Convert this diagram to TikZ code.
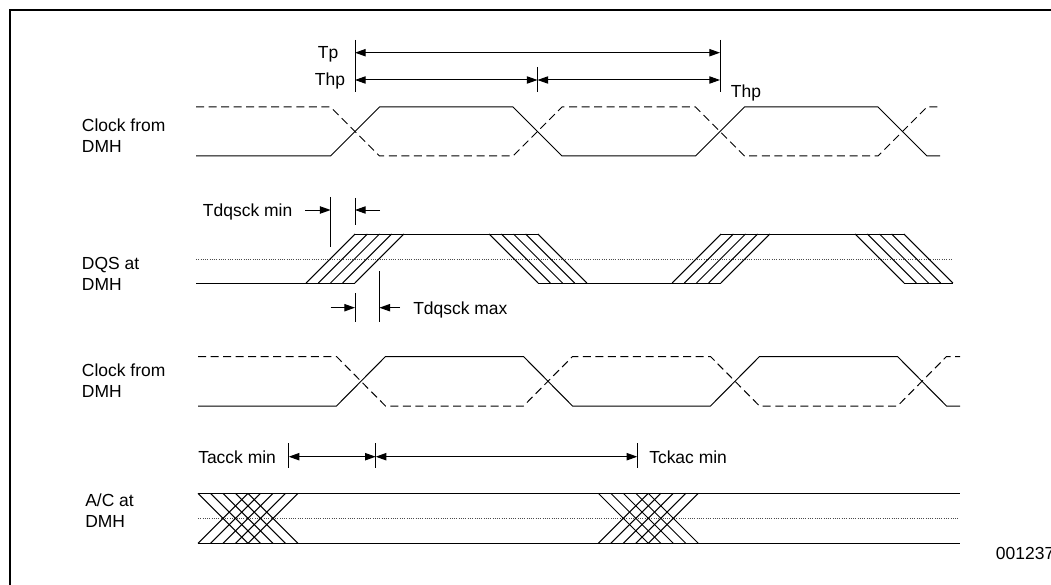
\documentclass[tikz,border=0pt]{standalone}
\usepackage{fontspec}
\setmainfont{Liberation Sans}
\usetikzlibrary{arrows.meta}
\begin{document}
\begin{tikzpicture}[x=0.75pt,y=-0.75pt,
  sig/.style={line width=0.75pt, line join=miter},
  dsig/.style={sig, dash pattern=on 6pt off 3.4pt},
  dotln/.style={line width=0.6pt, black!70, dash pattern=on 0.6pt off 1.1pt},
  tri/.tip={Triangle[length=8pt,width=5.5pt]},
  dimln/.style={line width=0.75pt, tri-tri},
  onearrow/.style={line width=0.75pt, -tri},
  tickln/.style={line width=0.75pt},
  lbl/.style={font=\fontsize{13.1}{15.7}\selectfont, inner sep=0pt, anchor=base west}]
\useasboundingbox (0,0) rectangle (1051,585);
\draw[line width=1.5pt] (1070,10.5) -- (10,10.5) -- (10,600);

% ---- labels on the left
\node[lbl] (c1a) at (81.7,131.7) {Clock from};
\node[lbl] (c1b) at (81.7,152.7) {DMH};
\node[lbl] (dqa) at (81.7,269) {DQS at};
\node[lbl] (dqb) at (81.7,290) {DMH};
\node[lbl] (c2a) at (81.7,376) {Clock from};
\node[lbl] (c2b) at (81.7,397) {DMH};
\node[lbl] (aca) at (85,506) {A/C at};
\node[lbl] (acb) at (85,527) {DMH};
\node[lbl] (fig) at (995.7,559) {001237};

% ---- Tp / Thp
\coordinate (t1) at (355,40);  \coordinate (t1b) at (355,92);
\coordinate (t2) at (537.5,67); \coordinate (t2b) at (537.5,92);
\coordinate (t3) at (720,40);  \coordinate (t3b) at (720,92);
\draw[tickln] (t1) -- (t1b);
\draw[tickln] (t2) -- (t2b);
\draw[tickln] (t3) -- (t3b);
\draw[dimln] (355,52.7) -- (720,52.7);
\draw[dimln] (355,80) -- (537.5,80);
\draw[dimln] (537.5,80) -- (720,80);
\node[lbl] (tp) at (317.7,58.7) {Tp};
\node[lbl] (thp1) at (314.6,86) {Thp};
\node[lbl] (thp2) at (730.7,97.7) {Thp};

% ---- Clock 1
\draw[sig] (196,156) -- (330.5,156) -- (379.5,107) -- (513,107) -- (562,156) -- (695.5,156) -- (744.5,107) -- (878,107) -- (927,156) -- (940,156);
\draw[dsig] (196,107) -- (330.5,107) -- (379.5,156) -- (513,156) -- (562,107) -- (695.5,107) -- (744.5,156) -- (878,156) -- (927,107) -- (940,107);

% ---- DQS
\draw[dotln] (196,259) -- (951,259);
\draw[sig] (196,283) -- (355,283);
\draw[sig] (355,234) -- (538,234);
\draw[sig] (538,283) -- (721,283);
\draw[sig] (721,234) -- (904,234);
\draw[sig] (904,283) -- (953,283);
\foreach \k in {0,...,4} {
  \draw[sig] ({306.1+12.2*\k},283) -- ++(49,-49);
  \draw[sig] ({489.1+12.2*\k},234) -- ++(49,49);
  \draw[sig] ({672.1+12.2*\k},283) -- ++(49,-49);
  \draw[sig] ({855.1+12.2*\k},234) -- ++(49,49);
}
% Tdqsck min
\draw[tickln] (330.6,197) -- (330.6,247);
\draw[tickln] (355,198) -- (355,225);
\draw[onearrow] (305,210) -- (330.6,210);
\draw[onearrow] (380,210) -- (355,210);
\node[lbl] (tmin) at (202.7,216) {Tdqsck min};
% Tdqsck max
\draw[tickln] (355,293) -- (355,322);
\draw[tickln] (379.4,271) -- (379.4,322);
\draw[onearrow] (330.6,307.7) -- (355,307.7);
\draw[onearrow] (400,307.7) -- (379.4,307.7);
\node[lbl] (tmax) at (413,314) {Tdqsck max};

% ---- Clock 2
\draw[sig] (198,406) -- (336.5,406) -- (385.5,356.5) -- (523.5,356.5) -- (572.5,406) -- (710.5,406) -- (759.5,356.5) -- (897.5,356.5) -- (946.5,406) -- (960,406);
\draw[dsig] (198,356.5) -- (336.5,356.5) -- (385.5,406) -- (523.5,406) -- (572.5,356.5) -- (710.5,356.5) -- (759.5,406) -- (897.5,406) -- (946.5,356.5) -- (960,356.5);

% ---- Tacck / Tckac
\draw[tickln] (288.7,443) -- (288.7,468);
\draw[tickln] (375.7,443) -- (375.7,468);
\draw[tickln] (637.3,443) -- (637.3,468);
\draw[dimln] (288.7,456.7) -- (375.7,456.7);
\draw[dimln] (375.7,456.7) -- (637.3,456.7);
\node[lbl] (tacck) at (198,463) {Tacck min};
\node[lbl] (tckac) at (649,463) {Tckac min};

% ---- A/C
\draw[dotln] (198,518.3) -- (958,518.3);
\draw[sig] (198,493.3) -- (960,493.3);
\draw[sig] (198,543.3) -- (960,543.3);
\foreach \g in {198,598.3} {
  \foreach \k in {0,...,4} {
    \draw[sig] ({\g+12.5*\k},493.3) -- ++(50,50);
    \draw[sig] ({\g+12.5*\k},543.3) -- ++(50,-50);
  }
}
\end{tikzpicture}
\end{document}
